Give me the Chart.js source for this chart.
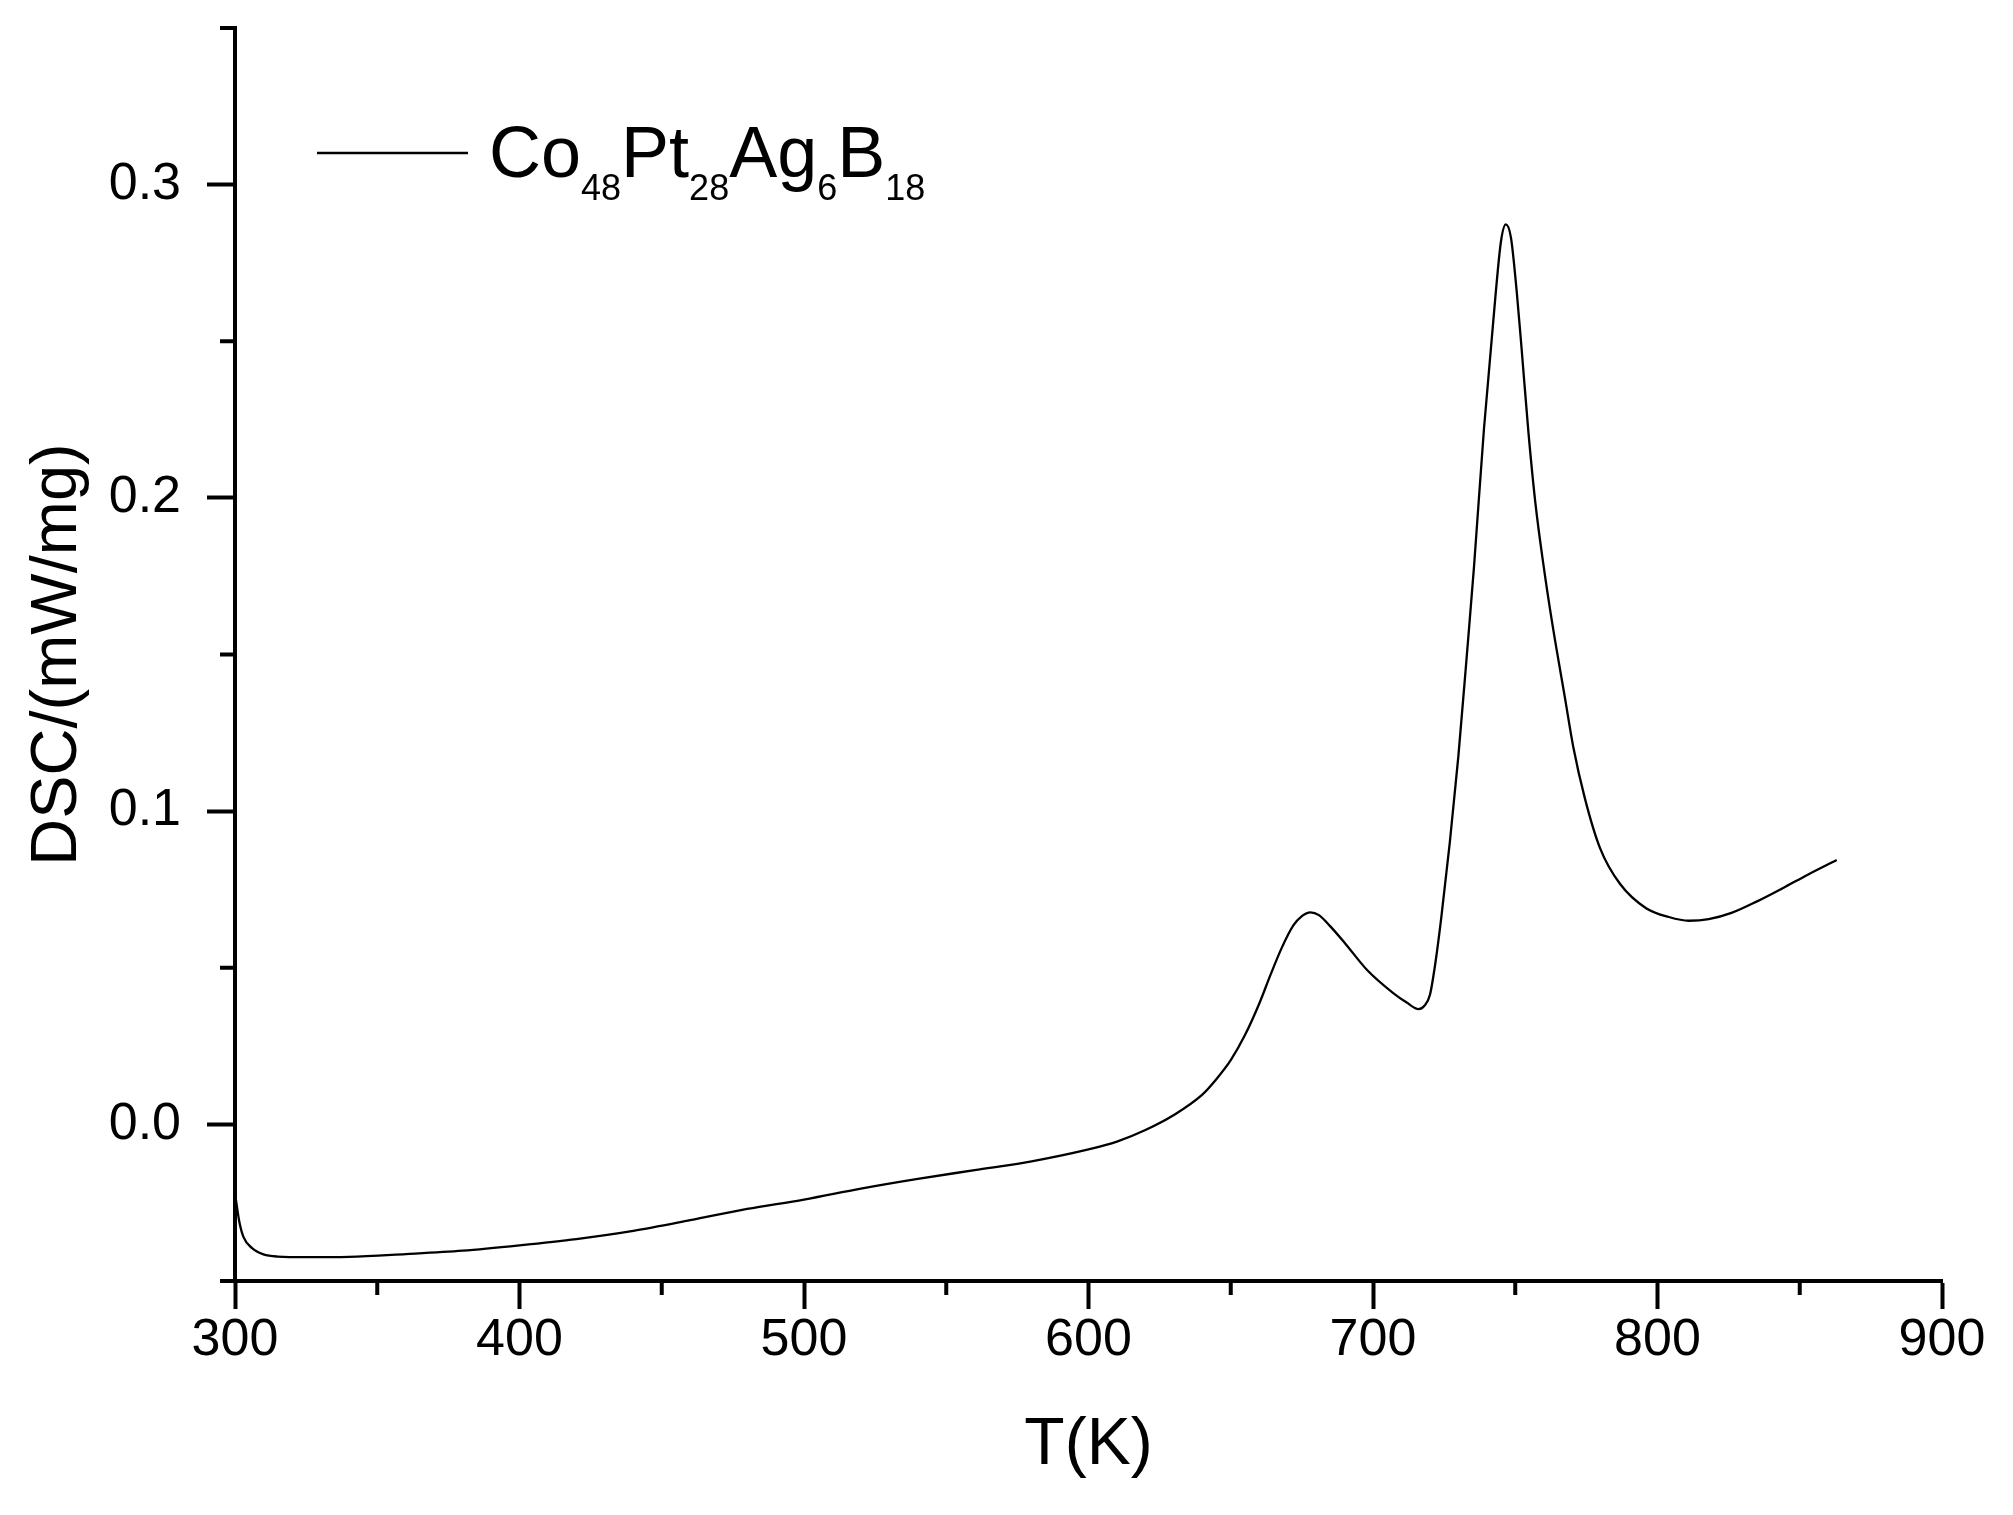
<!DOCTYPE html>
<html>
<head>
<meta charset="utf-8">
<title>DSC curve</title>
<script src="https://cdn.jsdelivr.net/npm/chart.js@4.4.1/dist/chart.umd.min.js"></script>
<style>
  html, body { margin: 0; padding: 0; background: #fff; }
  #wrap { width: 2013px; height: 1515px; }
</style>
</head>
<body>
<div id="wrap"><canvas id="dscChart" width="2013" height="1515"></canvas></div>
<script>
// temperature (K) and DSC signal (mW/mg)
const temps = [
  300, 301.5, 303, 306, 310, 315, 325, 340, 360, 380,
  400, 420, 440, 460, 480, 500, 520, 540, 560, 580,
  600, 610, 620, 630, 640, 645, 650, 655, 660, 664,
  668, 672, 675, 678, 681, 685, 690, 698, 707, 712,
  716, 718, 720, 722, 724, 727, 730, 733, 735.5, 739,
  743, 745, 746.7, 748.5, 750.5, 752.2, 754.6, 757, 759.9, 763,
  767.5, 770.4, 774.5, 779.8, 786.8, 796, 804, 811, 818, 826,
  835, 844, 853, 863
];
const dsc = [
  -0.022, -0.031, -0.036, -0.0395, -0.0415, -0.0422, -0.0424, -0.0423, -0.0414, -0.0403,
  -0.0386, -0.0366, -0.0340, -0.0306, -0.0270, -0.0240, -0.0205, -0.0174, -0.0146, -0.0118,
  -0.0080, -0.0055, -0.0018, 0.0030, 0.0095, 0.0145, 0.0205, 0.0285, 0.0385, 0.0478,
  0.0565, 0.0635, 0.0665, 0.0677, 0.0668, 0.0632, 0.0580, 0.0492, 0.0420, 0.0388,
  0.0368, 0.0378, 0.0413, 0.0520, 0.0660, 0.0900, 0.1175, 0.1500, 0.1780, 0.2220,
  0.2640, 0.2820, 0.2873, 0.2830, 0.2660, 0.2480, 0.2213, 0.1990, 0.1787, 0.1600,
  0.1360, 0.1205, 0.1040, 0.0882, 0.0768, 0.0690, 0.0662, 0.0650, 0.0655, 0.0675,
  0.0712, 0.0754, 0.0798, 0.0844
];
const seriesLabel = "Co48Pt28Ag6B18";

const xTicks = [300, 400, 500, 600, 700, 800, 900];
const xMinorTicks = [350, 450, 550, 650, 750, 850];
const yTicks = [0.0, 0.1, 0.2, 0.3];
const yMinorTicks = [-0.05, 0.05, 0.15, 0.25, 0.35];

const FONT = "'Liberation Sans', Arial, sans-serif";

// short ticks between the labelled ones
const minorTicks = {
  id: "minorTicks",
  afterDraw(chart) {
    const { ctx, chartArea } = chart;
    const xs = chart.scales.x, ys = chart.scales.y;
    ctx.save();
    ctx.strokeStyle = "#000";
    ctx.lineWidth = 4;
    ctx.beginPath();
    xMinorTicks.forEach(v => {
      const px = xs.getPixelForValue(v);
      ctx.moveTo(px, chartArea.bottom);
      ctx.lineTo(px, chartArea.bottom + 14);
    });
    yMinorTicks.forEach(v => {
      const py = ys.getPixelForValue(v);
      ctx.moveTo(chartArea.left, py);
      ctx.lineTo(chartArea.left - 15, py);
    });
    ctx.stroke();
    ctx.restore();
  }
};

// legend with subscripted formula
const formulaLegend = {
  id: "formulaLegend",
  afterDraw(chart) {
    const { ctx, chartArea } = chart;
    const ds = chart.data.datasets[0];
    const x0 = chartArea.left + 82;
    const y0 = chartArea.top + 125;
    ctx.save();
    ctx.strokeStyle = ds.borderColor;
    ctx.lineWidth = 2.5;
    ctx.beginPath();
    ctx.moveTo(x0, y0);
    ctx.lineTo(x0 + 151, y0);
    ctx.stroke();

    ctx.fillStyle = "#000";
    ctx.textBaseline = "alphabetic";
    let x = x0 + 172;
    const parts = ds.label.match(/[A-Za-z]+|\d+/g);
    parts.forEach(p => {
      const sub = /^\d+$/.test(p);
      ctx.font = (sub ? "36px " : "72px ") + FONT;
      ctx.fillText(p, x, sub ? y0 + 47 : y0 + 24);
      x += ctx.measureText(p).width;
    });
    ctx.restore();
  }
};

const ctx = document.getElementById("dscChart").getContext("2d");

new Chart(ctx, {
  type: "line",
  data: {
    datasets: [
      {
        label: seriesLabel,
        data: temps.map((t, i) => ({ x: t, y: dsc[i] })),
        borderColor: "#000",
        borderWidth: 2.3,
        pointRadius: 0,
        fill: false,
        cubicInterpolationMode: "monotone",
      },
    ],
  },
  options: {
    responsive: false,
    animation: false,
    layout: { padding: { top: 28, right: 71, left: 0, bottom: 0 } },
    plugins: {
      legend: { display: false },
      tooltip: { enabled: false },
    },
    scales: {
      x: {
        type: "linear",
        min: 300,
        max: 900,
        afterBuildTicks: (s) => { s.ticks = xTicks.map(v => ({ value: v })); },
        afterFit: (s) => { s.height = 234; s.paddingLeft = 0; s.paddingRight = 0; },
        border: { display: true, color: "#000", width: 4 },
        grid: {
          drawOnChartArea: false,
          drawTicks: true,
          tickLength: 28,
          tickWidth: 4,
          tickColor: "#000",
        },
        ticks: {
          color: "#000",
          padding: 0,
          maxRotation: 0,
          font: { family: FONT, size: 52 },
          callback: (v) => String(v),
        },
        title: {
          display: true,
          text: "T(K)",
          color: "#000",
          font: { family: FONT, size: 66 },
          padding: { top: 0, bottom: 30 },
        },
      },
      y: {
        type: "linear",
        min: -0.05,
        max: 0.35,
        afterBuildTicks: (s) => { s.ticks = yTicks.map(v => ({ value: v })); },
        afterFit: (s) => { s.width = 235; s.paddingTop = 0; s.paddingBottom = 0; },
        border: { display: true, color: "#000", width: 4 },
        grid: {
          drawOnChartArea: false,
          drawTicks: true,
          tickLength: 28,
          tickWidth: 4,
          tickColor: "#000",
        },
        ticks: {
          color: "#000",
          padding: 26,
          font: { family: FONT, size: 52 },
          callback: (v) => Number(v).toFixed(1),
        },
        title: {
          display: true,
          text: "DSC/(mW/mg)",
          color: "#000",
          font: { family: FONT, size: 65 },
          padding: { top: 19, bottom: 0 },
        },
      },
    },
  },
  plugins: [minorTicks, formulaLegend],
});
</script>
</body>
</html>
